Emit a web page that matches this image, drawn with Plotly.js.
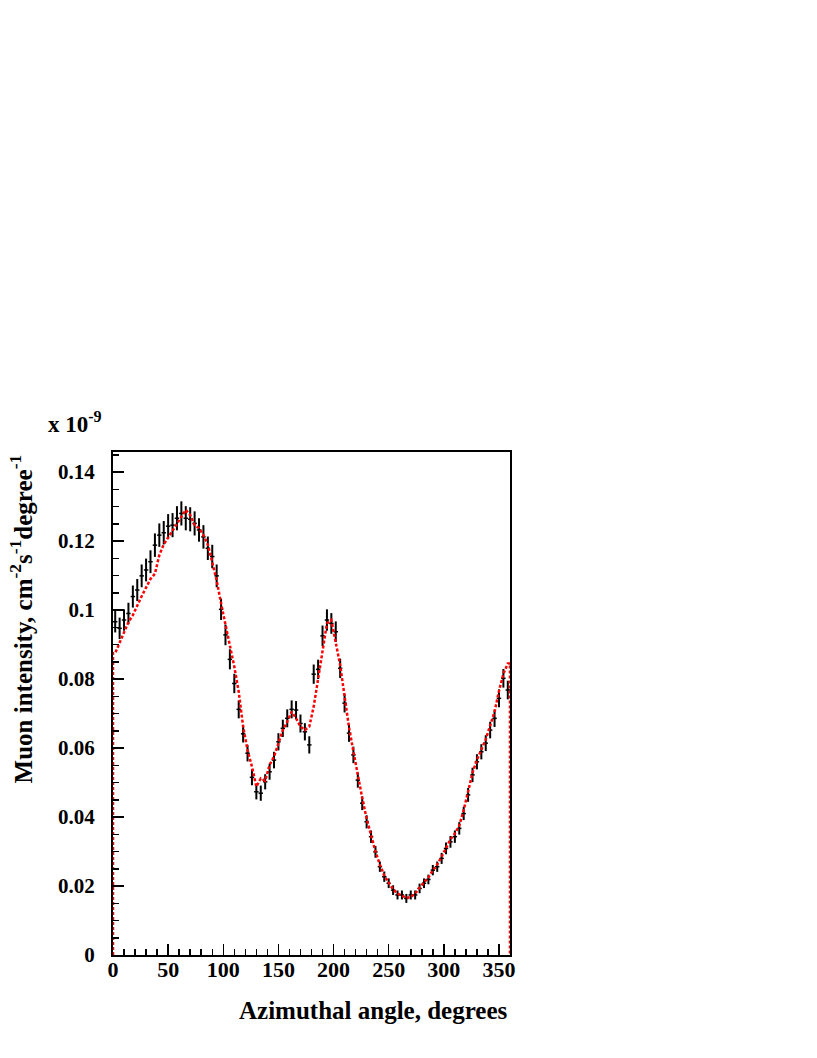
<!DOCTYPE html>
<html>
<head>
<meta charset="utf-8">
<script src="https://cdn.plot.ly/plotly-3.0.1.min.js"></script>
<style>
  body { margin: 0; background: #fff; }
  #plot { width: 817px; height: 1058px; }
</style>
</head>
<body>
<div id="plot"></div>
<script>
// bin centres (4 degree bins)
var angle = [2, 6, 10, 14, 18, 22, 26, 30, 34, 38,
  42, 46, 50, 54, 58, 62, 66, 70, 74, 78,
  82, 86, 90, 94, 98, 102, 106, 110, 114, 118,
  122, 126, 130, 134, 138, 142, 146, 150, 154, 158,
  162, 166, 170, 174, 178, 182, 186, 190, 194, 198,
  202, 206, 210, 214, 218, 222, 226, 230, 234, 238,
  242, 246, 250, 254, 258, 262, 266, 270, 274, 278,
  282, 286, 290, 294, 298, 302, 306, 310, 314, 318,
  322, 326, 330, 334, 338, 342, 346, 350, 354, 358];
var halfBin = 2;

// measured intensity (x 1e-9)
var measured = [0.0966, 0.0947, 0.0971, 0.0990, 0.1039, 0.1058, 0.1099, 0.1116, 0.1140, 0.1188,
  0.1217, 0.1224, 0.1243, 0.1246, 0.1266, 0.1280, 0.1266, 0.1263, 0.1251, 0.1232,
  0.1212, 0.1179, 0.1155, 0.1099, 0.1002, 0.0928, 0.0857, 0.0787, 0.0712, 0.0641,
  0.0585, 0.0515, 0.0473, 0.0469, 0.0502, 0.0531, 0.0565, 0.0618, 0.0657, 0.0686,
  0.0712, 0.0710, 0.0671, 0.0647, 0.0609, 0.0814, 0.0828, 0.0925, 0.0971, 0.0961,
  0.0937, 0.0831, 0.0730, 0.0643, 0.0580, 0.0507, 0.0440, 0.0386, 0.0343, 0.0299,
  0.0256, 0.0227, 0.0208, 0.0188, 0.0174, 0.0174, 0.0164, 0.0174, 0.0174, 0.0193,
  0.0208, 0.0219, 0.0246, 0.0256, 0.0280, 0.0309, 0.0328, 0.0343, 0.0367, 0.0410,
  0.0464, 0.0522, 0.0560, 0.0589, 0.0614, 0.0652, 0.0686, 0.0744, 0.0802, 0.0768];

var measuredErr = [0.0031, 0.0031, 0.0031, 0.0031, 0.0032, 0.0032, 0.0033, 0.0033, 0.0033, 0.0034,
  0.0034, 0.0034, 0.0035, 0.0035, 0.0035, 0.0035, 0.0035, 0.0035, 0.0035, 0.0034,
  0.0034, 0.0034, 0.0034, 0.0033, 0.0031, 0.0030, 0.0029, 0.0028, 0.0026, 0.0025,
  0.0024, 0.0023, 0.0022, 0.0022, 0.0022, 0.0023, 0.0024, 0.0025, 0.0025, 0.0026,
  0.0026, 0.0026, 0.0026, 0.0025, 0.0025, 0.0028, 0.0028, 0.0030, 0.0031, 0.0030,
  0.0030, 0.0028, 0.0027, 0.0025, 0.0024, 0.0022, 0.0020, 0.0019, 0.0018, 0.0017,
  0.0015, 0.0015, 0.0014, 0.0014, 0.0013, 0.0013, 0.0013, 0.0013, 0.0013, 0.0014,
  0.0014, 0.0014, 0.0015, 0.0015, 0.0016, 0.0017, 0.0017, 0.0018, 0.0018, 0.0019,
  0.0020, 0.0021, 0.0022, 0.0022, 0.0023, 0.0024, 0.0025, 0.0026, 0.0027, 0.0027];

// simulated intensity (red dashed)
var simulated = [0.0875, 0.0905, 0.0935, 0.0965, 0.0985, 0.1015, 0.1040, 0.1065, 0.1090, 0.1105,
  0.1159, 0.1190, 0.1210, 0.1234, 0.1251, 0.1272, 0.1290, 0.1275, 0.1246, 0.1237,
  0.1217, 0.1190, 0.1135, 0.1086, 0.1019, 0.0957, 0.0899, 0.0836, 0.0763, 0.0662,
  0.0594, 0.0546, 0.0488, 0.0512, 0.0505, 0.0551, 0.0575, 0.0614, 0.0652, 0.0676,
  0.0705, 0.0686, 0.0662, 0.0652, 0.0662, 0.0720, 0.0797, 0.0884, 0.0961, 0.0971,
  0.0910, 0.0840, 0.0750, 0.0660, 0.0590, 0.0520, 0.0455, 0.0395, 0.0345, 0.0300,
  0.0262, 0.0230, 0.0210, 0.0190, 0.0178, 0.0172, 0.0166, 0.0168, 0.0178, 0.0195,
  0.0210, 0.0225, 0.0245, 0.0262, 0.0285, 0.0312, 0.0335, 0.0352, 0.0375, 0.0420,
  0.0475, 0.0528, 0.0565, 0.0595, 0.0625, 0.0665, 0.0705, 0.0765, 0.0815, 0.0845];

var xRange = [0, 360];
var yRange = [0, 0.1458];

// simulated curve closed down to zero at both edges of the histogram
var simX = [xRange[0], xRange[0]].concat(angle, [xRange[1], xRange[1]]);
var simY = [0, simulated[0]].concat(simulated, [simulated[simulated.length - 1], 0]);

var font = 'Liberation Serif, Times New Roman, serif';

var traces = [
  {
    x: angle,
    y: measured,
    type: 'scatter',
    mode: 'markers',
    marker: { size: 1, color: 'black' },
    error_y: { type: 'data', array: measuredErr, width: 0, thickness: 2, color: 'black' },
    error_x: { type: 'constant', value: halfBin, width: 0, thickness: 1.5, color: 'black' },
    hoverinfo: 'x+y'
  },
  {
    x: simX,
    y: simY,
    type: 'scatter',
    mode: 'lines',
    line: { color: '#ff0000', width: 2.5, dash: '3px,2px' },
    hoverinfo: 'x+y'
  }
];

var layout = {
  width: 817,
  height: 1058,
  showlegend: false,
  paper_bgcolor: 'white',
  plot_bgcolor: 'white',
  margin: { l: 113, r: 307, t: 452, b: 103 },
  font: { family: font, size: 21, color: 'black', weight: 'bold' },
  xaxis: {
    range: xRange,
    showgrid: false,
    zeroline: false,
    showline: true,
    mirror: true,
    linecolor: 'black',
    linewidth: 2,
    ticks: 'inside',
    ticklen: 11,
    tickwidth: 1.5,
    tickcolor: 'black',
    dtick: 50,
    tick0: 0,
    minor: { dtick: 10, ticks: 'inside', ticklen: 6, tickwidth: 1.5, tickcolor: 'black' },
    tickfont: { family: font, size: 22, weight: 'bold' },
    ticklabelstandoff: -6
  },
  yaxis: {
    range: yRange,
    showgrid: false,
    zeroline: false,
    showline: true,
    mirror: true,
    linecolor: 'black',
    linewidth: 2,
    ticks: 'inside',
    ticklen: 11,
    tickwidth: 1.5,
    tickcolor: 'black',
    dtick: 0.02,
    tick0: 0,
    minor: { dtick: 0.005, ticks: 'inside', ticklen: 6, tickwidth: 1.5, tickcolor: 'black' },
    tickfont: { family: font, size: 21, weight: 'bold' },
    ticklabelstandoff: 12
  },
  annotations: [
    {
      text: 'Azimuthal angle, degrees',
      xref: 'paper', yref: 'paper',
      x: 1, y: -0.111,
      xanchor: 'right', yanchor: 'middle',
      showarrow: false,
      font: { family: font, size: 25, weight: 'bold' }
    },
    {
      text: 'Muon intensity, cm<sup>-2</sup>s<sup>-1</sup>degree<sup>-1</sup>',
      xref: 'paper', yref: 'paper',
      x: -0.232, y: 1,
      xanchor: 'center', yanchor: 'top',
      textangle: -90,
      showarrow: false,
      font: { family: font, size: 25, weight: 'bold' }
    },
    {
      text: 'x 10<sup>-9</sup>',
      xref: 'paper', yref: 'paper',
      x: -0.17, y: 1.025,
      xanchor: 'left', yanchor: 'bottom',
      showarrow: false,
      font: { family: font, size: 23, weight: 'bold' }
    }
  ]
};

Plotly.newPlot('plot', traces, layout, { staticPlot: true });
</script>
</body>
</html>
